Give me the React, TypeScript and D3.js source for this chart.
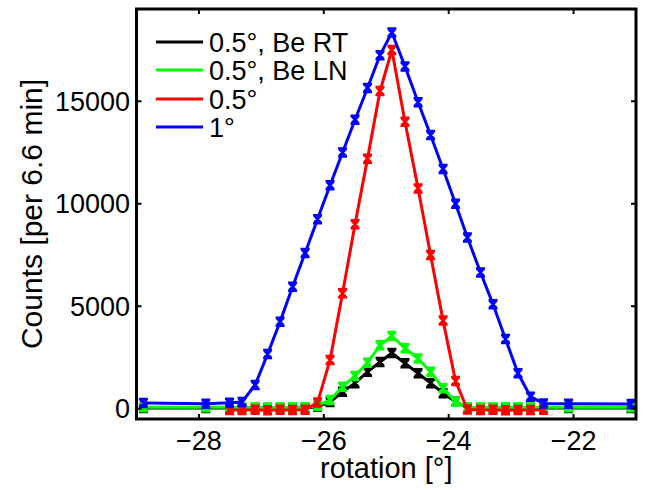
import React from "react";
import * as d3 from "d3";

const rotation = [-28.89, -27.89, -27.51, -27.31, -27.10, -26.90, -26.70, -26.50, -26.30, -26.10, -25.90, -25.70, -25.50, -25.30, -25.10, -24.91, -24.70, -24.49, -24.29, -24.09, -23.89, -23.70, -23.49, -23.29, -23.09, -22.89, -22.69, -22.48, -22.08, -21.08];

const beRT = [40, 40, 40, 40, 40, 40, 40, 40, 40, 100, 330, 830, 1250, 1800, 2280, 2720, 2220, 1730, 1250, 760, 340, 50, 40, 40, 40, 40, 40, 40, 40, 40];
const beLN = [70, 70, 70, 60, 60, 50, 60, 60, 70, 130, 430, 1075, 1600, 2250, 3100, 3550, 2950, 2450, 1800, 1000, 340, 70, 60, 60, 70, 60, 60, 70, 70, 70];
const half = [null, null, -60, -60, -50, -70, -50, -60, -50, 300, 2380, 5630, 9000, 12200, 15500, 17500, 14000, 10750, 7500, 4300, 1350, -40, -60, -50, -70, -60, -60, -50, null, null];
const one = [280, 250, 290, 330, 1160, 2670, 4250, 5950, 7600, 9250, 10900, 12500, 14100, 15650, 17250, 18350, 16700, 14950, 13350, 11700, 10000, 8350, 6650, 5100, 3400, 1730, 590, 260, 240, 230];

const seriesNames = ["0.5°, Be RT", "0.5°, Be LN", "0.5°", "1°"];
const seriesColors = ["#000000", "#00ff00", "#ff0000", "#0000ff"];
const seriesValues = [beRT, beLN, half, one];

const xTicks = [-28, -26, -24, -22];
const yTicks = [0, 5000, 10000, 15000];
const xLabel = "rotation [°]";
const yLabel = "Counts [per 6.6 min]";

const W = 647, H = 490;
const L = 136.5, R = 636, T = 9, B = 419;
const FONT = "'Liberation Sans', Arial, Helvetica, sans-serif";

export default function App() {
  const x = d3.scaleLinear().domain([-29, -21]).range([L, R]);
  const y = d3.scaleLinear().domain([-500, 19500]).range([B, T]);
  const fmt = (v: number) => (v < 0 ? "\u2212" + Math.abs(v) : String(v));

  const series = seriesValues.map((vals, si) => {
    const pts = rotation
      .map((r, i) => ({ r, v: vals[i] }))
      .filter((p) => p.v !== null) as { r: number; v: number }[];
    return { name: seriesNames[si], color: seriesColors[si], pts };
  });

  const line = d3
    .line<{ r: number; v: number }>()
    .x((d) => x(d.r))
    .y((d) => y(d.v));

  const marker = (cx: number, cy: number) => {
    const w = 4.5, h = 4, c = 3.2;
    return `M${cx - w},${cy - h}H${cx + w}M${cx - w},${cy + h}H${cx + w}M${cx},${cy - h}V${cy + h}M${cx - c},${cy - c}L${cx + c},${cy + c}M${cx - c},${cy + c}L${cx + c},${cy - c}`;
  };

  const legendY = [42, 70, 99, 127];

  return (
    <svg width={W} height={H} style={{ position: "absolute", left: 0, top: 0, background: "#fff" }} fontFamily={FONT}>
      <rect x={0} y={0} width={W} height={H} fill="#fff" />
      {series.map((s) => (
        <g key={s.name}>
          <path d={line(s.pts) || ""} fill="none" stroke={s.color} strokeWidth={3} strokeLinejoin="miter" />
          <path d={s.pts.map((p) => marker(x(p.r), y(p.v))).join("")} fill="none" stroke={s.color} strokeWidth={2.5} />
        </g>
      ))}
      {/* axes box */}
      <rect x={L} y={T} width={R - L} height={B - T} fill="none" stroke="#000" strokeWidth={3} />
      {xTicks.map((t) => (
        <g key={"x" + t}>
          <line x1={x(t)} x2={x(t)} y1={B} y2={B - 5} stroke="#000" strokeWidth={2} />
          <line x1={x(t)} x2={x(t)} y1={T} y2={T + 5} stroke="#000" strokeWidth={2} />
          <text x={x(t)} y={450} textAnchor="middle" fontSize={27} fill="#000">{fmt(t)}</text>
        </g>
      ))}
      {yTicks.map((t) => (
        <g key={"y" + t}>
          <line x1={L} x2={L + 5} y1={y(t)} y2={y(t)} stroke="#000" strokeWidth={2} />
          <line x1={R} x2={R - 5} y1={y(t)} y2={y(t)} stroke="#000" strokeWidth={2} />
          <text x={130} y={y(t)} dy="0.36em" textAnchor="end" fontSize={27} fill="#000">{fmt(t)}</text>
        </g>
      ))}
      <text x={(L + R) / 2} y={478} textAnchor="middle" fontSize={29} fill="#000">{xLabel}</text>
      <text transform={`translate(42,${(T + B) / 2}) rotate(-90)`} textAnchor="middle" fontSize={30} fill="#000">{yLabel}</text>
      {series.map((s, i) => (
        <g key={"lg" + s.name}>
          <line x1={156} x2={203} y1={legendY[i]} y2={legendY[i]} stroke={s.color} strokeWidth={3} />
          <text x={209} y={legendY[i]} dy="0.36em" fontSize={27} fill="#000">{s.name}</text>
        </g>
      ))}
    </svg>
  );
}
